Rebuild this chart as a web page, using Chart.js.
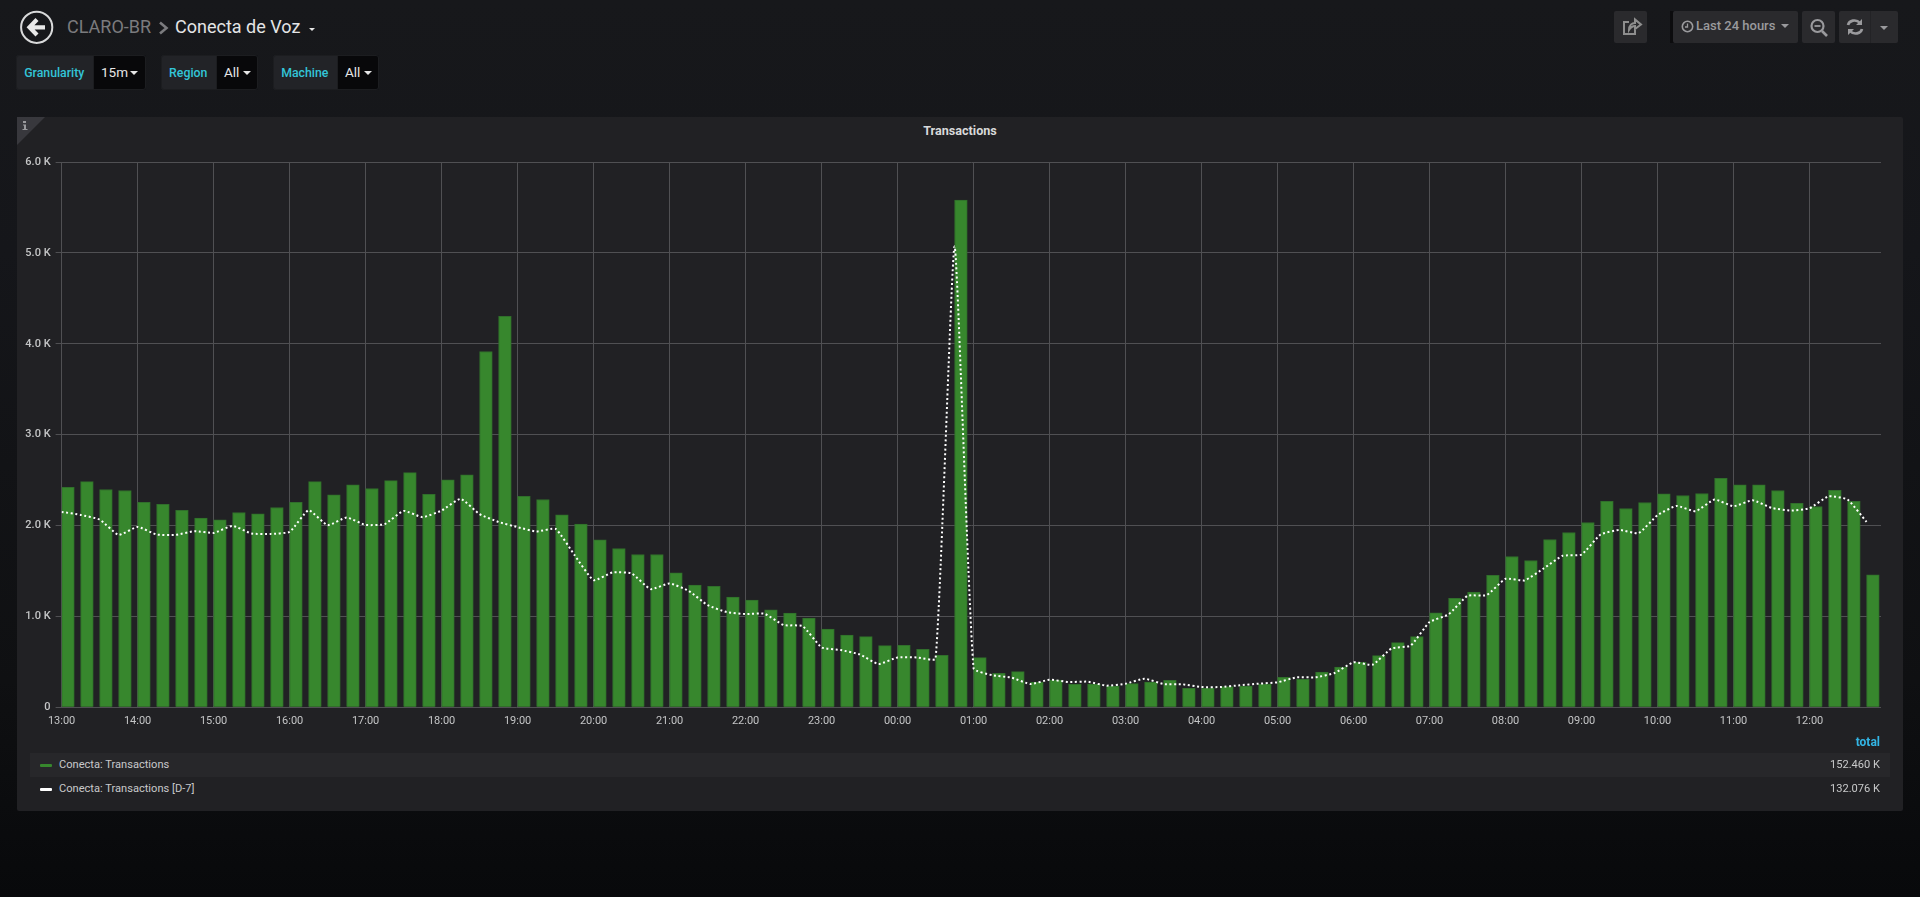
<!DOCTYPE html>
<html>
<head>
<meta charset="utf-8">
<title>Conecta de Voz</title>
<script src="https://cdn.jsdelivr.net/npm/chart.js@4"></script>
<style>
html,body{margin:0;padding:0;width:1920px;height:897px;overflow:hidden;font-family:Roboto,sans-serif;color:#d8d9da}
body{background:linear-gradient(180deg,#17181b 0,#15161a 250px,#0f1012 680px,#08090b 897px);position:relative}
.abs{position:absolute;white-space:nowrap}
.crumb{font-size:18px;line-height:24px;top:15px}
.tv{height:35px;top:55px;border-radius:3px;background:#222327;box-shadow:inset 0 0 0 1px #1c1d20}
.tl{position:absolute;left:0;top:0;height:35px;line-height:36px;color:#33c5d8;font-size:12.3px;font-weight:500;text-align:center}
.tval{position:absolute;top:0;height:35px;line-height:35px;background:#08080a;color:#e6e6e6;font-size:13.5px;border-radius:0 3px 3px 0;box-shadow:inset 0 0 0 1px #1c1d20}
.caret{position:absolute;width:0;height:0;border-left:4px solid transparent;border-right:4px solid transparent;border-top:4px solid #e6e6e6}
.btn{top:11px;height:32px;background:#2a2a2d;border-radius:2px;color:#8e8e8e}
#panel{left:17px;top:117px;width:1886px;height:694px;background:#212124;border-radius:2px}
#tri{left:17px;top:117px;width:0;height:0;border-top:28px solid #38383d;border-right:28px solid transparent}
#title{left:17px;width:1886px;top:123px;text-align:center;font-size:12.6px;font-weight:700;color:#d8d9da;line-height:16px}
#chartWrap{left:0;top:140px;width:1920px;height:600px}
#chartWrap canvas{display:block}
.row{left:30px;width:1860px;height:24px;line-height:24px;font-size:11.1px;color:#c8c9ca}
.sw{position:absolute;left:10px;top:10.5px;width:12px;height:3.5px;border-radius:1px}
.nm{position:absolute;left:29px;top:0}
.val{position:absolute;right:10px;top:0}
</style>
</head>
<body>
<svg class="abs" style="left:19px;top:10px" width="36" height="36" viewBox="0 0 36 36">
  <circle cx="17.7" cy="17.3" r="15.6" fill="none" stroke="#d8d9da" stroke-width="2"/>
  <path d="M18 9.5 L10.5 17.3 L18 25 M11 17.3 H26" fill="none" stroke="#e8e8e8" stroke-width="4.2"/>
</svg>
<div class="abs crumb" style="left:67px;color:#7b7b7e">CLARO-BR</div>
<svg class="abs" style="left:158px;top:21px" width="12" height="14"><path d="M2 1.5 L8.5 7 L2 12.5" fill="none" stroke="#7b7b7e" stroke-width="2.6"/></svg>
<div class="abs crumb" style="left:175px;color:#e4e5e6">Conecta de Voz</div>
<div class="caret" style="left:309px;top:28px;border-left-width:3.5px;border-right-width:3.5px;border-top-width:3.5px"></div>

<div class="abs tv" style="left:16px;width:130px"><div class="tl" style="width:76.5px">Granularity</div><div class="tval" style="left:76.5px;width:53.5px;padding-left:8.5px;box-sizing:border-box">15m<span class="caret" style="left:37px;top:16px"></span></div></div>
<div class="abs tv" style="left:161px;width:97px"><div class="tl" style="width:54.5px">Region</div><div class="tval" style="left:54.5px;width:42.5px;padding-left:8.5px;box-sizing:border-box">All<span class="caret" style="left:27px;top:16px"></span></div></div>
<div class="abs tv" style="left:273px;width:106px"><div class="tl" style="width:63.5px">Machine</div><div class="tval" style="left:63.5px;width:42.5px;padding-left:8.5px;box-sizing:border-box">All<span class="caret" style="left:27px;top:16px"></span></div></div>

<div class="abs btn" style="left:1614px;width:33px">
  <svg width="33" height="32"><path d="M15 11 H10 V23 H21 V19 M15 19 C15 14 18 12 21 12 V8.5 L27 13.5 L21 18 V15 C18 15 16.5 16.5 15 19 Z" fill="none" stroke="#8e8e8e" stroke-width="2"/></svg>
</div>
<div class="abs" style="left:1670px;top:11px;width:4px;height:32px;background:#0c0c0e"></div>
<div class="abs btn" style="left:1673px;width:125px;font-size:13px;font-weight:500;line-height:32px;color:#9a9a9d">
  <svg style="position:absolute;left:8px;top:9px" width="13" height="13"><circle cx="6.5" cy="6.5" r="5.2" fill="none" stroke="#9a9a9d" stroke-width="1.6"/><path d="M6.5 3.5V7H4" fill="none" stroke="#9a9a9d" stroke-width="1.3"/></svg>
  <span style="position:absolute;left:23px;top:-1px">Last 24 hours</span>
  <span class="caret" style="left:108px;top:13px;border-top-color:#9a9a9d;border-left-width:4.5px;border-right-width:4.5px"></span>
</div>
<div class="abs btn" style="left:1802px;width:33px">
  <svg width="33" height="32"><circle cx="15.5" cy="15" r="6" fill="none" stroke="#9a9a9d" stroke-width="2.2"/><path d="M12.5 15H18.5" stroke="#9a9a9d" stroke-width="1.8"/><path d="M20 20L25 25" stroke="#9a9a9d" stroke-width="2.6"/></svg>
</div>
<div class="abs btn" style="left:1839px;width:59px">
  <svg width="32" height="32"><path d="M9 14 C10 9.5 17 7.5 21 12 M23 18 C22 22.5 15 24.5 11 20" fill="none" stroke="#9a9a9d" stroke-width="2.6"/><path d="M23 8V14H17Z M9 24V18H15Z" fill="#9a9a9d"/></svg>
  <span class="caret" style="left:41px;top:15px;border-top-color:#9a9a9d;border-left-width:4.5px;border-right-width:4.5px"></span>
  <span style="position:absolute;left:31px;top:0;width:1px;height:32px;background:#232326"></span>
</div>

<div class="abs" id="panel"></div>
<div class="abs" id="tri"></div>
<svg class="abs" style="left:22px;top:120px" width="7" height="11"><path d="M1 1h3v2H1zM1 4.5h3V9h1.5v1H.5V9H2V5.5H1z" fill="#9a9a9d"/></svg>
<div class="abs" id="title">Transactions</div>
<div class="abs" id="chartWrap"><canvas id="c" width="1920" height="600"></canvas></div>
<div class="abs" style="right:40px;top:734px;color:#33b5e5;font-size:12px;font-weight:700;line-height:16px">total</div>
<div id="legend"></div>

<script>
const seriesNames = ['Conecta: Transactions', 'Conecta: Transactions [D-7]'];
const seriesTotals = ['152.460 K', '132.076 K'];
const seriesColors = ['#37872d', '#ffffff'];
const yTickValues = [0, 1000, 2000, 3000, 4000, 5000, 6000];
const xTickLabels = ['13:00','14:00','15:00','16:00','17:00','18:00','19:00','20:00','21:00','22:00','23:00','00:00',
                     '01:00','02:00','03:00','04:00','05:00','06:00','07:00','08:00','09:00','10:00','11:00','12:00'];
const hourMinutes = 60;
const stepMinutes = 15;
const barMinutes = 10;

const transactions = [
  2421,2484,2396,2385,2256,2234,2168,2081,2062,2143,2128,2198,
  2256,2484,2337,2447,2407,2495,2582,2344,2502,2557,3915,4303,
  2322,2286,2117,2015,1842,1747,1681,1681,1480,1344,1330,1212,
  1179,1073,1037,982,861,795,777,678,681,637,571,5580,
  546,374,392,278,300,253,256,234,260,278,297,209,
  209,227,234,256,330,308,388,443,495,568,711,777,
  1040,1198,1267,1451,1659,1615,1846,1923,2033,2267,2187,2253,
  2348,2330,2352,2520,2447,2447,2385,2245,2209,2388,2267,1458
];
const transactionsD7 = [
  2150,2117,2066,1897,1985,1901,1897,1938,1919,1996,1912,1908,
  1930,2168,2004,2088,2007,2015,2161,2092,2165,2293,2125,2040,
  1982,1934,1963,1674,1399,1484,1473,1300,1363,1282,1125,1048,
  1026,1029,905,894,659,630,582,476,549,549,535,5070,
  429,352,326,256,304,278,282,238,260,315,256,253,
  223,223,242,260,275,330,330,377,495,469,648,678,
  938,1022,1227,1234,1414,1396,1527,1667,1681,1901,1952,1916,
  2114,2216,2157,2286,2212,2278,2194,2165,2190,2322,2286,2040
];

const xMax = 1436.4;

document.getElementById('legend').innerHTML = seriesNames.map((n, i) =>
  '<div class="abs row" style="top:' + (753 + i * 24) + 'px;' + (i === 0 ? 'background:#27272a' : '') + '">' +
  '<span class="sw" style="background:' + seriesColors[i] + '"></span>' +
  '<span class="nm">' + n + '</span><span class="val">' + seriesTotals[i] + '</span></div>').join('');

new Chart(document.getElementById('c'), {
  type: 'bar',
  data: {
    datasets: [
      {
        type: 'line', order: 0, label: seriesNames[1],
        data: transactionsD7.map((v, i) => ({ x: i * stepMinutes, y: v })),
        borderColor: seriesColors[1], borderWidth: 2, borderDash: [2, 2.6],
        pointRadius: 0, tension: 0.15, fill: false
      },
      {
        type: 'bar', order: 1, label: seriesNames[0],
        data: transactions.map((v, i) => ({ x: i * stepMinutes + barMinutes / 2, y: v })),
        backgroundColor: seriesColors[0], borderColor: '#306f2b', borderWidth: 1,
        barThickness: 12.7
      }
    ]
  },
  options: {
    responsive: false, animation: false, devicePixelRatio: 1,
    layout: { padding: { top: 22, right: 39, left: 0, bottom: 0 } },
    plugins: { legend: { display: false }, tooltip: { enabled: false } },
    scales: {
      x: {
        type: 'linear', offset: false, min: 0, max: xMax,
        afterBuildTicks: s => { s.ticks = xTickLabels.map((_, i) => ({ value: i * hourMinutes })); },
        afterFit: s => { s.height = 32.7; s.paddingRight = 0; s.paddingLeft = 0; },
        grid: { color: '#505053', lineWidth: 1, drawTicks: false, offset: false },
        border: { display: false },
        ticks: {
          maxRotation: 0, autoSkip: false, padding: 7,
          color: '#c4c5c6', font: { family: 'Roboto', size: 11 },
          callback: v => xTickLabels[v / hourMinutes]
        }
      },
      y: {
        min: yTickValues[0], max: yTickValues[yTickValues.length - 1],
        afterBuildTicks: s => { s.ticks = yTickValues.map(value => ({ value })); },
        afterFit: s => { s.width = 61.6; },
        grid: { color: '#505053', lineWidth: 1, tickLength: 6, tickColor: '#505053' },
        border: { display: false },
        ticks: {
          padding: 5, color: '#c4c5c6',
          font: { family: 'Roboto', size: 11, weight: '500' },
          callback: v => v === 0 ? '0' : (v / 1000).toFixed(1) + ' K'
        }
      }
    }
  }
});
</script>
</body>
</html>
